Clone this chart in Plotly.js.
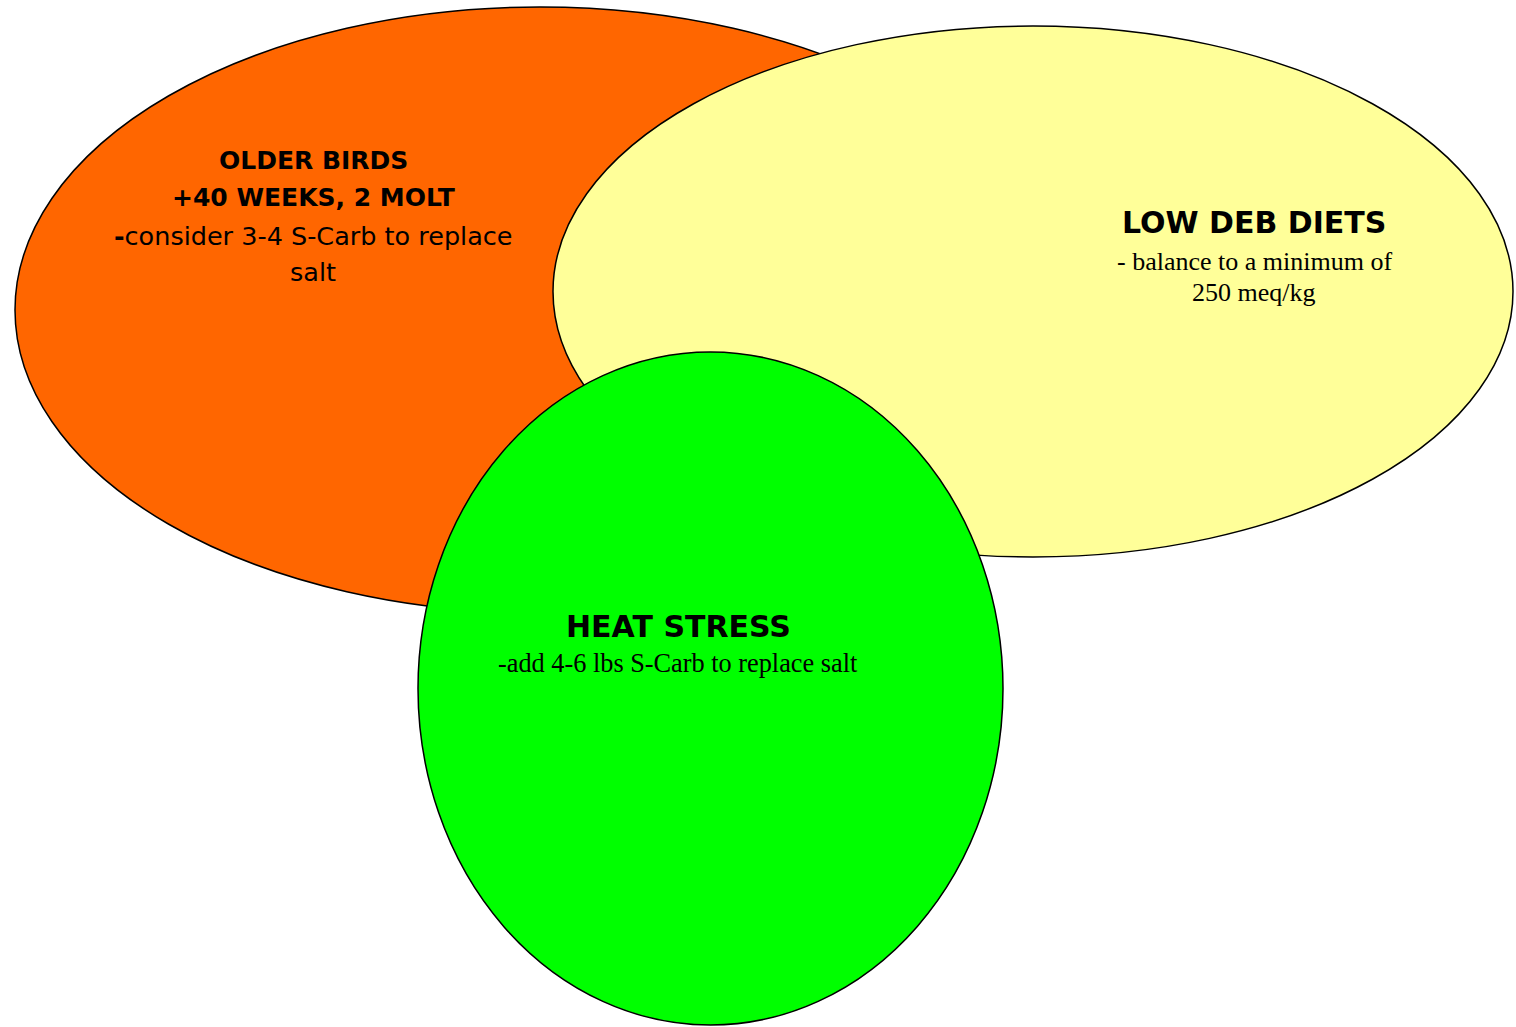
<!DOCTYPE html>
<html>
<head>
<meta charset="utf-8">
<script src="https://cdn.plot.ly/plotly-3.0.1.min.js"></script>
<style>html,body{margin:0;padding:0;background:#fff;}#chart{width:1516px;height:1027px;}</style>
</head>
<body>
<div id="chart"></div>
<script>
// ---- data ----
const setNames = ["OLDER BIRDS", "LOW DEB DIETS", "HEAT STRESS"];
const setTitleLines = [
  ["OLDER BIRDS", "+40 WEEKS, 2 MOLT"],
  ["LOW DEB DIETS"],
  ["HEAT STRESS"]
];
const setNoteLines = [
  ["<b>-</b>consider 3-4 S-Carb to replace", "salt"],
  ["- balance to a minimum of", "250 meq/kg"],
  ["-add 4-6 lbs S-Carb to replace salt"]
];
// ellipse extents (x0, x1, y0, y1) in page units
const setX0 = [15, 553, 418];
const setX1 = [1065, 1513, 1003];
const setY0 = [7, 26, 352];
const setY1 = [613, 557, 1025];

// ---- styles / layout ----
const fills = ["#FF6600", "#FFFF99", "#00FF00"];
const titleStyle = [
  {family: "DejaVu Sans", size: 25},
  {family: "DejaVu Sans", size: 30},
  {family: "DejaVu Sans", size: 30}
];
const noteStyle = [
  {family: "DejaVu Sans", size: 25.5},
  {family: "Liberation Serif", size: 26},
  {family: "Liberation Serif", size: 26.3}
];
const textX = [313, 1254, 678];
const titleY = [[160, 197], [222], [626]];
const noteY = [[236, 272], [261, 292], [663]];

const shapes = setNames.map((n, i) => ({
  type: "circle", xref: "x", yref: "y",
  x0: setX0[i], x1: setX1[i], y0: setY0[i], y1: setY1[i],
  fillcolor: fills[i], line: {color: "#000", width: 1.5}, layer: "below"
}));

const annotations = [];
setNames.forEach((n, i) => {
  setTitleLines[i].forEach((t, j) => {
    annotations.push({
      x: textX[i], y: titleY[i][j], xref: "x", yref: "y",
      text: "<b>" + t + "</b>", showarrow: false, xanchor: "center", yanchor: "middle",
      font: {family: titleStyle[i].family, size: titleStyle[i].size, color: "#000"}
    });
  });
  setNoteLines[i].forEach((t, j) => {
    annotations.push({
      x: textX[i], y: noteY[i][j], xref: "x", yref: "y",
      text: t, showarrow: false, xanchor: "center", yanchor: "middle",
      font: {family: noteStyle[i].family, size: noteStyle[i].size, color: "#000"}
    });
  });
});

const layout = {
  width: 1516, height: 1027,
  margin: {l: 0, r: 0, t: 0, b: 0, pad: 0},
  paper_bgcolor: "#fff", plot_bgcolor: "#fff",
  xaxis: {range: [0, 1516], visible: false, fixedrange: true},
  yaxis: {range: [1027, 0], visible: false, fixedrange: true},
  showlegend: false,
  shapes: shapes,
  annotations: annotations
};

Plotly.newPlot("chart", [{x: [], y: [], type: "scatter", hoverinfo: "skip"}], layout, {displayModeBar: false, staticPlot: true});
</script>
</body>
</html>
